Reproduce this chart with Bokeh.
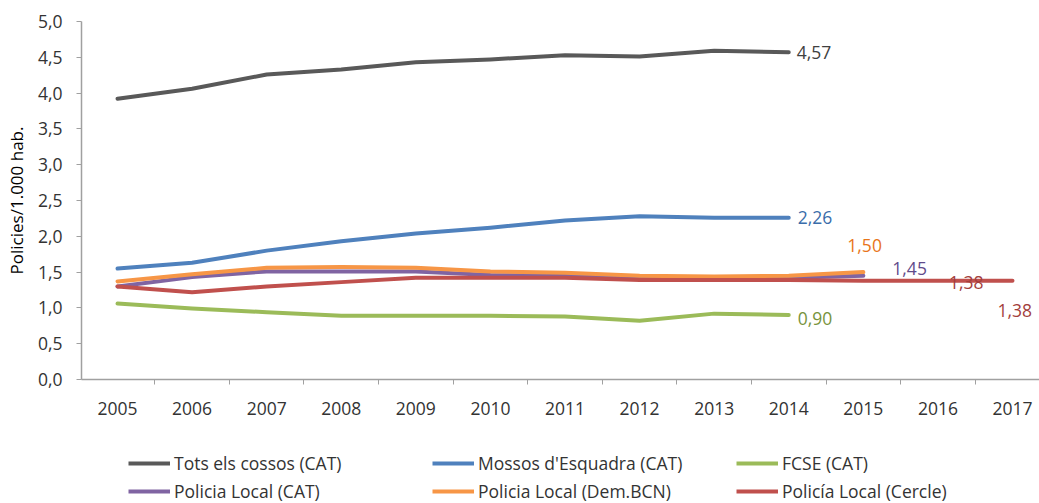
from bokeh.plotting import figure
from bokeh.models import FixedTicker, Legend, LegendItem
from bokeh.layouts import column
from bokeh.core.properties import value
from bokeh.embed import file_html
from bokeh.resources import INLINE

years = [2005, 2006, 2007, 2008, 2009, 2010, 2011, 2012, 2013, 2014, 2015, 2016, 2017]

tots = [3.92, 4.06, 4.26, 4.33, 4.43, 4.47, 4.53, 4.51, 4.59, 4.57]
mossos = [1.55, 1.63, 1.80, 1.93, 2.04, 2.12, 2.22, 2.28, 2.26, 2.26]
fcse = [1.06, 0.99, 0.94, 0.89, 0.89, 0.89, 0.88, 0.82, 0.92, 0.90]
pl_cat = [1.30, 1.43, 1.51, 1.51, 1.51, 1.46, 1.45, 1.42, 1.42, 1.42, 1.45]
pl_bcn = [1.37, 1.47, 1.56, 1.57, 1.56, 1.51, 1.49, 1.45, 1.44, 1.45, 1.50]
pl_cercle = [1.30, 1.22, 1.30, 1.36, 1.42, 1.42, 1.42, 1.39, 1.39, 1.39, 1.38, 1.38, 1.38]

series_names = ["Tots els cossos (CAT)", "Mossos d'Esquadra (CAT)", "FCSE (CAT)",
                "Policia Local (CAT)", "Policia Local (Dem.BCN)", "Policía Local (Cercle)"]
series_values = [tots, mossos, fcse, pl_cat, pl_bcn, pl_cercle]
line_colors = ["#595959", "#4F81BD", "#9BBB59", "#8064A2", "#F79646", "#C0504D"]

# end-value labels
label_years = [2014, 2014, 2014, 2015, 2015, 2016, 2017]
label_values = [4.57, 2.26, 0.90, 1.50, 1.45, 1.38, 1.38]
label_texts = ["4,57", "2,26", "0,90", "1,50", "1,45", "1,38", "1,38"]
label_colors = ["#404040", "#3A6DAA", "#77933C", "#E8751A", "#5F4B8B", "#A33E3C", "#A33E3C"]
label_dx = [8, 9, 9, -16, 29, 11, -15]
label_dy = [0, 0, 3, -27, -7, 2, 30]

y_ticks = [0, 0.5, 1, 1.5, 2, 2.5, 3, 3.5, 4, 4.5, 5]

FONT = "Open Sans"
TXT = "#333333"
FS = "17.5px"

p = figure(width=1039, height=425, output_backend="svg", toolbar_location=None,
           x_range=(2004.517, 2017.362), y_range=(0, 5),
           min_border_left=81, min_border_right=0, min_border_top=21, min_border_bottom=46)
p.outline_line_color = None
p.xgrid.visible = False
p.ygrid.visible = False

for name, vals, col in zip(series_names, series_values, line_colors):
    p.line(years[:len(vals)], vals, line_color=col, line_width=4, line_cap="round", line_join="round")

for yr, v, t, c, dx, dy in zip(label_years, label_values, label_texts, label_colors, label_dx, label_dy):
    p.text([yr], [v], text=[t], text_color=c, text_font=value(FONT), text_font_size=FS,
           text_align="left", text_baseline="middle", x_offset=dx, y_offset=dy)

xa = p.xaxis[0]
xa.ticker = FixedTicker(ticks=years, minor_ticks=[y - 0.5 for y in years] + [2017.5])
xa.major_tick_out = 0
xa.major_tick_in = 0
xa.minor_tick_out = 5
xa.minor_tick_in = 0
xa.minor_tick_line_color = "#A0A0A0"
xa.axis_line_color = "#A0A0A0"
xa.axis_line_width = 1.5
xa.major_label_standoff = 17
xa.major_label_text_font = FONT
xa.major_label_text_font_size = FS
xa.major_label_text_color = TXT

ya = p.yaxis[0]
ya.ticker = FixedTicker(ticks=y_ticks, minor_ticks=[])
ya.major_label_overrides = {t: f"{t:.1f}".replace(".", ",") for t in y_ticks}
ya.major_tick_out = 5
ya.major_tick_in = 0
ya.major_tick_line_color = "#A0A0A0"
ya.axis_line_color = "#A0A0A0"
ya.axis_line_width = 1.5
ya.major_label_standoff = 14
ya.major_label_text_font = FONT
ya.major_label_text_font_size = FS
ya.major_label_text_color = TXT
ya.axis_label = "Policies/1.000 hab."
ya.axis_label_text_font = FONT
ya.axis_label_text_font_size = "17px"
ya.axis_label_text_font_style = "normal"
ya.axis_label_text_color = "#000000"
ya.axis_label_standoff = 7

# legend panel (same series drawn outside its visible range, only the legend shows)
p2 = figure(width=1039, height=78, output_backend="svg", toolbar_location=None,
            x_range=(0, 1), y_range=(0, 1),
            min_border_left=0, min_border_right=0, min_border_top=0, min_border_bottom=0)
p2.outline_line_color = None
p2.axis.visible = False
p2.grid.visible = False
leg_renderers = [p2.line(years[:len(vals)], vals, line_color=col, line_width=4)
                 for vals, col in zip(series_values, line_colors)]
items = [LegendItem(label=n, renderers=[r]) for n, r in zip(series_names, leg_renderers)]
legend = Legend(items=items, orientation="horizontal", ncols=3, location=(47, 0),
                glyph_width=42, glyph_height=24, label_standoff=4, label_width=254,
                spacing=4, padding=0, margin=0, border_line_color=None,
                background_fill_alpha=0, label_text_font=FONT, label_text_font_size=FS,
                label_text_color=TXT, label_height=24)
p2.add_layout(legend, "center")

open("out.html", "w").write(file_html(column(p, p2, spacing=0), INLINE))
